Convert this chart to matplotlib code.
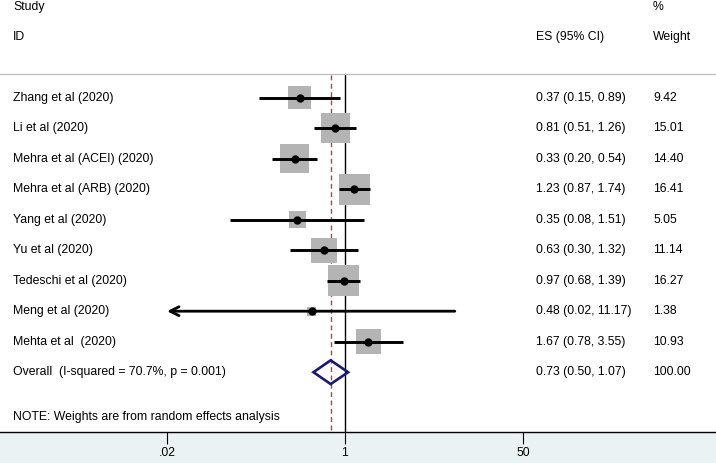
import matplotlib
matplotlib.use('Agg')
import matplotlib.pyplot as plt
import numpy as np
from matplotlib.patches import Polygon

# ---------------- data ----------------
studies = ["Zhang et al (2020)", "Li et al (2020)", "Mehra et al (ACEI) (2020)",
           "Mehra et al (ARB) (2020)", "Yang et al (2020)", "Yu et al (2020)",
           "Tedeschi et al (2020)", "Meng et al (2020)", "Mehta et al  (2020)"]
es = [0.37, 0.81, 0.33, 1.23, 0.35, 0.63, 0.97, 0.48, 1.67]
ci_low = [0.15, 0.51, 0.20, 0.87, 0.08, 0.30, 0.68, 0.02, 0.78]
ci_high = [0.89, 1.26, 0.54, 1.74, 1.51, 1.32, 1.39, 11.17, 3.55]
weights = [9.42, 15.01, 14.40, 16.41, 5.05, 11.14, 16.27, 1.38, 10.93]
arrow_left = [False, False, False, False, False, False, False, True, False]

overall_label = "Overall  (I-squared = 70.7%, p = 0.001)"
overall_es = 0.73
overall_low = 0.50
overall_high = 1.07
overall_weight = 100.00

note = "NOTE: Weights are from random effects analysis"
tick_vals = [0.02, 1, 50]
tick_labels = [".02", "1", "50"]

# ---------------- layout ----------------
W, H = 716, 463
dpi = 100
fig = plt.figure(figsize=(W / dpi, H / dpi), dpi=dpi)
fig.patch.set_facecolor('#eaf2f3')

axis_px = 432.0
ax = fig.add_axes([0, (H - axis_px) / H, 1, axis_px / H])
ax.set_facecolor('white')

px_per_dec = 104.75
x1_px = 345.0
ax.set_xscale('log')
ax.set_xlim(10 ** (-x1_px / px_per_dec), 10 ** ((W - x1_px) / px_per_dec))

row0_px = 97.7
row_step = 30.5
ax.set_ylim((axis_px - row0_px) / row_step, -row0_px / row_step)

def ypx(p):
    return (p - row0_px) / row_step

FONT = 'Liberation Sans'
fs = 8.8

for s in ['top', 'left', 'right']:
    ax.spines[s].set_visible(False)
ax.spines['bottom'].set_linewidth(1.0)
ax.set_yticks([])
ax.set_xticks(tick_vals)
ax.set_xticklabels(tick_labels, fontsize=fs, family=FONT)
ax.xaxis.set_minor_locator(matplotlib.ticker.NullLocator())
ax.tick_params(axis='x', direction='out', length=8.5, width=0.8, pad=2.5)

# header
x_text = 13 / W
x_es = 536 / W
x_w = 653 / W
tra = matplotlib.transforms.blended_transform_factory(ax.transAxes, ax.transData)
ax.text(x_text, ypx(7), "Study", transform=tra, ha='left', va='center', fontsize=fs, family=FONT)
ax.text(x_text, ypx(37), "ID", transform=tra, ha='left', va='center', fontsize=fs, family=FONT)
ax.text(x_w, ypx(6.5), "%", transform=tra, ha='left', va='center', fontsize=fs, family=FONT)
ax.text(x_es, ypx(37), "ES (95% CI)", transform=tra, ha='left', va='center', fontsize=fs, family=FONT)
ax.text(x_w, ypx(37), "Weight", transform=tra, ha='left', va='center', fontsize=fs, family=FONT)

ax.axhline(ypx(74), color='#bdbdbd', lw=0.9)

# reference lines
ax.plot([1, 1], [ypx(74), ax.get_ylim()[0]], color='black', lw=1.0, zorder=1)
ax.plot([overall_es, overall_es], [ypx(75), ax.get_ylim()[0]], color='#a84848',
        lw=1.0, ls=(0, (3.5, 2.5)), zorder=1)

# studies
k_px = 7.6
rows = np.arange(len(studies))
sizes = [(k_px * np.sqrt(w) * 72 / dpi) ** 2 for w in weights]
ax.scatter(es, rows, marker='s', s=sizes, color='#b4b4b4', edgecolor='none', zorder=2)
for i in rows:
    if arrow_left[i]:
        ax.annotate('', xy=(ci_low[i], i), xytext=(ci_high[i], i),
                    arrowprops=dict(arrowstyle='->', lw=2.0, color='black',
                                    mutation_scale=16, shrinkA=0, shrinkB=0), zorder=3)
    else:
        ax.plot([ci_low[i], ci_high[i]], [i, i], color='black', lw=2.1,
                solid_capstyle='butt', zorder=3)
ax.plot(es, rows, 'o', color='black', ms=5, zorder=4)

for i in rows:
    ax.text(x_text, i, studies[i], transform=tra, ha='left', va='center', fontsize=fs, family=FONT)
    ax.text(x_es, i, f"{es[i]:.2f} ({ci_low[i]:.2f}, {ci_high[i]:.2f})", transform=tra,
            ha='left', va='center', fontsize=fs, family=FONT)
    ax.text(x_w, i, f"{weights[i]:.2f}", transform=tra, ha='left', va='center',
            fontsize=fs, family=FONT)

# overall
yo = len(studies)
h = 0.39
diamond = Polygon([(overall_low, yo), (overall_es, yo - h), (overall_high, yo),
                   (overall_es, yo + h)], closed=True, fill=False,
                  edgecolor='#1a1a70', lw=1.9, zorder=5)
ax.add_patch(diamond)
ax.text(x_text, yo, overall_label, transform=tra, ha='left', va='center', fontsize=fs, family=FONT)
ax.text(x_es, yo, f"{overall_es:.2f} ({overall_low:.2f}, {overall_high:.2f})", transform=tra,
        ha='left', va='center', fontsize=fs, family=FONT)
ax.text(x_w, yo, f"{overall_weight:.2f}", transform=tra, ha='left', va='center',
        fontsize=fs, family=FONT)

ax.text(x_text, ypx(417), note, transform=tra, ha='left', va='center', fontsize=fs, family=FONT)

fig.savefig('out.png', dpi=dpi, facecolor=fig.get_facecolor())
